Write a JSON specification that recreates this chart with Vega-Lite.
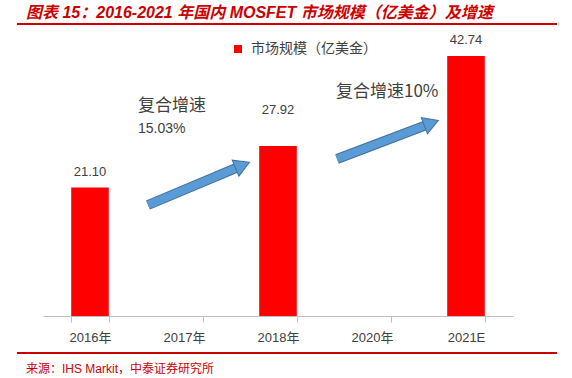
{
  "$schema": "https://vega.github.io/schema/vega-lite/v6.json",
  "width": 470,
  "height": 286,
  "autosize": {"type": "none"},
  "padding": {"left": 43, "top": 30, "right": 59, "bottom": 62},
  "background": "white",
  "config": {"view": {"stroke": null}},
  "title": {
    "text": "图表 15：2016-2021 年国内 MOSFET 市场规模（亿美金）及增速",
    "anchor": "start",
    "frame": "group",
    "dx": -17,
    "offset": 2,
    "font": "Liberation Sans, Noto Sans CJK SC",
    "fontSize": 16,
    "fontWeight": "bold",
    "fontStyle": "italic",
    "color": "#CC0000"
  },
  "datasets": {
    "bars": [
      {"year": "2016年", "value": 21.10},
      {"year": "2018年", "value": 27.92},
      {"year": "2021E", "value": 42.74}
    ],
    "shafts": [
      {"id": "a1", "x": 1.117, "y": 18.24, "x2": 2.083, "y2": 24.50},
      {"id": "a2", "x": 3.128, "y": 25.80, "x2": 4.091, "y2": 31.45}
    ],
    "heads": [
      {"id": "a1", "x": 2.122, "y": 24.77},
      {"id": "a2", "x": 4.132, "y": 31.70}
    ],
    "notes": [
      {"text": "复合增速", "x": 1.011, "y": 34.5, "size": "big"},
      {"text": "15.03%", "x": 1.011, "y": 30.65, "size": "small"},
      {"text": "复合增速10%", "x": 3.117, "y": 36.81, "size": "big"}
    ],
    "lines": [
      {"x": -0.277, "x2": 5.468, "y": 47.99},
      {"x": -0.277, "x2": 5.468, "y": -6.08}
    ],
    "source": [
      {"text": "来源：IHS Markit，中泰证券研究所", "x": -0.181, "y": -8.71}
    ]
  },
  "layer": [
    {
      "layer": [
        {
          "data": {"name": "bars"},
          "mark": {"type": "bar"},
          "encoding": {
            "x": {
              "field": "year", "type": "nominal", "sort": null,
              "scale": {"domain": ["2016年", "2017年", "2018年", "2020年", "2021E"], "paddingInner": 0.6, "paddingOuter": 0.3},
              "axis": {
                "title": null, "labelAngle": 0, "grid": false,
                "domainColor": "#BFBFBF", "tickColor": "#BFBFBF",
                "tickSize": 6, "tickBand": "extent",
                "labelFont": "Liberation Sans, Noto Sans CJK SC",
                "labelFontSize": 13, "labelColor": "#404040", "labelPadding": 9
              }
            },
            "y": {"field": "value", "type": "quantitative", "scale": {"domain": [0, 47], "nice": false}, "axis": null},
            "color": {
              "datum": "市场规模（亿美金）", "type": "nominal",
              "scale": {"range": ["#FF0000"]},
              "legend": {
                "title": null, "orient": "none", "legendX": 188, "legendY": 12,
                "padding": 0, "symbolType": "square", "symbolSize": 64,
                "symbolStrokeWidth": 0, "labelOffset": 6,
                "labelFont": "Noto Sans CJK SC", "labelFontSize": 14, "labelColor": "#404040"
              }
            }
          }
        },
        {
          "data": {"name": "bars"},
          "transform": [{"filter": "datum.year != '2018年'"}],
          "mark": {"type": "text", "dy": -12, "baseline": "alphabetic", "font": "Liberation Sans", "fontSize": 13, "color": "#404040"},
          "encoding": {
            "x": {"field": "year", "type": "nominal", "sort": null, "scale": {"domain": ["2016年", "2017年", "2018年", "2020年", "2021E"], "paddingInner": 0.6, "paddingOuter": 0.3}},
            "y": {"field": "value", "type": "quantitative", "scale": {"domain": [0, 47], "nice": false}},
            "text": {"field": "value", "type": "quantitative", "format": ".2f"}
          }
        },
        {
          "data": {"name": "bars"},
          "transform": [{"filter": "datum.year == '2018年'"}],
          "mark": {"type": "text", "dy": -32, "baseline": "alphabetic", "font": "Liberation Sans", "fontSize": 13, "color": "#404040"},
          "encoding": {
            "x": {"field": "year", "type": "nominal", "sort": null, "scale": {"domain": ["2016年", "2017年", "2018年", "2020年", "2021E"], "paddingInner": 0.6, "paddingOuter": 0.3}},
            "y": {"field": "value", "type": "quantitative", "scale": {"domain": [0, 47], "nice": false}},
            "text": {"field": "value", "type": "quantitative", "format": ".2f"}
          }
        }
      ]
    },
    {
      "layer": [
        {
          "data": {"name": "shafts"},
          "mark": {"type": "rule", "color": "#41719C", "strokeWidth": 10, "strokeCap": "butt"},
          "encoding": {
            "x": {"field": "x", "type": "quantitative", "scale": {"domain": [0, 5], "nice": false, "zero": false}, "axis": null},
            "y": {"field": "y", "type": "quantitative", "scale": {"domain": [0, 47], "nice": false}},
            "x2": {"field": "x2"},
            "y2": {"field": "y2"}
          }
        },
        {
          "data": {"name": "shafts"},
          "mark": {"type": "rule", "color": "#5B9BD5", "strokeWidth": 8, "strokeCap": "butt"},
          "encoding": {
            "x": {"field": "x", "type": "quantitative"},
            "y": {"field": "y", "type": "quantitative"},
            "x2": {"field": "x2"},
            "y2": {"field": "y2"}
          }
        },
        {
          "data": {"name": "heads"},
          "transform": [{"filter": "datum.id == 'a1'"}],
          "mark": {"type": "point", "shape": "triangle-right", "filled": true, "size": 300, "angle": 337.2, "color": "#5B9BD5", "stroke": "#41719C", "strokeWidth": 1, "opacity": 1},
          "encoding": {
            "x": {"field": "x", "type": "quantitative"},
            "y": {"field": "y", "type": "quantitative"}
          }
        },
        {
          "data": {"name": "heads"},
          "transform": [{"filter": "datum.id == 'a2'"}],
          "mark": {"type": "point", "shape": "triangle-right", "filled": true, "size": 300, "angle": 339.2, "color": "#5B9BD5", "stroke": "#41719C", "strokeWidth": 1, "opacity": 1},
          "encoding": {
            "x": {"field": "x", "type": "quantitative"},
            "y": {"field": "y", "type": "quantitative"}
          }
        },
        {
          "data": {"name": "notes"},
          "transform": [{"filter": "datum.size == 'big'"}],
          "mark": {"type": "text", "align": "left", "baseline": "middle", "font": "Noto Sans CJK SC", "fontSize": 17, "color": "#404040"},
          "encoding": {
            "x": {"field": "x", "type": "quantitative"},
            "y": {"field": "y", "type": "quantitative"},
            "text": {"field": "text"}
          }
        },
        {
          "data": {"name": "notes"},
          "transform": [{"filter": "datum.size == 'small'"}],
          "mark": {"type": "text", "align": "left", "baseline": "middle", "font": "Liberation Sans", "fontSize": 14, "color": "#404040"},
          "encoding": {
            "x": {"field": "x", "type": "quantitative"},
            "y": {"field": "y", "type": "quantitative"},
            "text": {"field": "text"}
          }
        },
        {
          "data": {"name": "lines"},
          "mark": {"type": "rule", "color": "#CC0000", "strokeWidth": 2, "clip": false},
          "encoding": {
            "x": {"field": "x", "type": "quantitative"},
            "x2": {"field": "x2"},
            "y": {"field": "y", "type": "quantitative"}
          }
        },
        {
          "data": {"name": "source"},
          "mark": {"type": "text", "align": "left", "baseline": "middle", "font": "Liberation Sans, Noto Sans CJK SC", "fontSize": 12, "color": "#CC0000", "clip": false},
          "encoding": {
            "x": {"field": "x", "type": "quantitative"},
            "y": {"field": "y", "type": "quantitative"},
            "text": {"field": "text"}
          }
        }
      ]
    }
  ],
  "resolve": {"scale": {"x": "independent"}}
}
